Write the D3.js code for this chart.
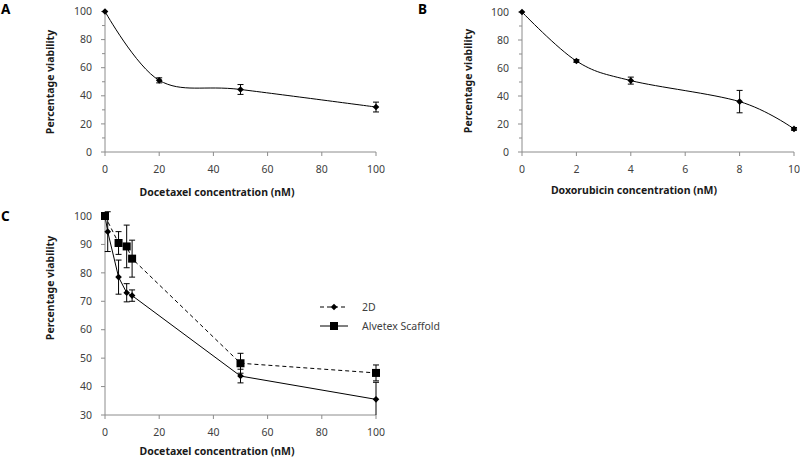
<!DOCTYPE html>
<html><head><meta charset="utf-8">
<script src="https://cdn.jsdelivr.net/npm/d3@7"></script>
<style>
body{margin:0;background:#fff;}
svg{display:block;}
text{font-family:"Noto Sans",sans-serif;}
</style></head>
<body><svg id="c" width="800" height="458"></svg>
<script>
// Panel A: docetaxel
const aConc = [0, 20, 50, 100];
const aViab = [100, 51, 44.5, 32];
const aErr  = [0, 1.8, 3.5, 3.5];
// Panel B: doxorubicin
const bConc = [0, 2, 4, 8, 10];
const bViab = [100, 65, 51, 36, 16.5];
const bErr  = [0, 1, 2.5, 8, 1];
// Panel C
const cConc = [0, 1, 5, 8, 10, 50, 100];
const c2DViab = [100, 94.5, 78.5, 73, 72, 43.7, 35.5];       // solid, diamonds
const c2DErr  = [0, 7, 6, 3.2, 2, 2.4, 6];
const cScafConc = [0, 5, 8, 10, 50, 100];
const cScafViab = [100, 90.5, 89.3, 85, 48.2, 44.8];          // dashed, squares
const cScafErr  = [0, 4, 7.5, 6.5, 3.5, 2.8];
const xTicksA = [0, 20, 40, 60, 80, 100];
const xTicksB = [0, 2, 4, 6, 8, 10];
const legendLabels = ["2D", "Alvetex Scaffold"];

const svg = d3.select("#c");
const axisCol = "#8c8c8c", textCol = "#404040";

function drawAxes(x, y, xt, ymajor, yminor, xTitle, xTitlePos, yTitlePos, ytitle) {
  const [x0] = x.range(); const [y0] = y.range();
  const x1 = x.range()[1], y1 = y.range()[1];
  const g = svg.append("g");
  g.append("line").attr("x1", x0).attr("x2", x0).attr("y1", y0).attr("y2", y1)
    .attr("stroke", axisCol).attr("stroke-width", 1);
  g.append("line").attr("x1", x0).attr("x2", x1).attr("y1", y0).attr("y2", y0)
    .attr("stroke", axisCol).attr("stroke-width", 1);
  yminor.forEach(v => g.append("line").attr("x1", x0 - 3).attr("x2", x0)
    .attr("y1", y(v)).attr("y2", y(v)).attr("stroke", axisCol));
  ymajor.forEach(v => {
    g.append("line").attr("x1", x0 - 4).attr("x2", x0).attr("y1", y(v)).attr("y2", y(v)).attr("stroke", axisCol);
    g.append("text").attr("x", x0 - 13).attr("y", y(v)).attr("dy", "0.35em")
      .attr("text-anchor", "end").attr("font-size", 10.5).attr("fill", textCol).text(v);
  });
  xt.forEach(v => {
    g.append("line").attr("x1", x(v)).attr("x2", x(v)).attr("y1", y0).attr("y2", y0 + 4).attr("stroke", axisCol);
    g.append("text").attr("x", x(v)).attr("y", y0 + 17).attr("dy", "0.35em")
      .attr("text-anchor", "middle").attr("font-size", 10.5).attr("fill", textCol).text(v);
  });
  g.append("text").attr("x", xTitlePos[0]).attr("y", xTitlePos[1]).attr("dy", "0.35em")
    .attr("text-anchor", "middle").attr("font-size", 10.5).attr("font-weight", "bold")
    .attr("fill", "#1a1a1a").text(xTitle);
  g.append("text").attr("transform", `translate(${yTitlePos[0]},${yTitlePos[1]}) rotate(-90)`)
    .attr("dy", "0.35em").attr("text-anchor", "middle").attr("font-size", 10.5)
    .attr("font-weight", "bold").attr("fill", "#1a1a1a").text(ytitle);
}

function errorBars(x, y, xs, vs, es, clampMin) {
  xs.forEach((xv, i) => {
    if (!es[i]) return;
    const lo = Math.max(vs[i] - es[i], clampMin), hi = vs[i] + es[i];
    const g = svg.append("g").attr("stroke", "#000").attr("stroke-width", 1);
    g.append("line").attr("x1", x(xv)).attr("x2", x(xv)).attr("y1", y(lo)).attr("y2", y(hi));
    g.append("line").attr("x1", x(xv) - 3).attr("x2", x(xv) + 3).attr("y1", y(hi)).attr("y2", y(hi));
    if (vs[i] - es[i] >= clampMin)
      g.append("line").attr("x1", x(xv) - 3).attr("x2", x(xv) + 3).attr("y1", y(lo)).attr("y2", y(lo));
  });
}

// diamond = square rotated 45 degrees
const diamondPath = r => `M0,${-r}L${r},0L0,${r}L${-r},0Z`;
const squarePath = r => `M${-r},${-r}H${r}V${r}H${-r}Z`;

function markers(x, y, xs, vs, pathFn, r) {
  xs.forEach((xv, i) => svg.append("path").attr("d", pathFn(r))
    .attr("transform", `translate(${x(xv)},${y(vs[i])})`).attr("fill", "#000"));
}

// Panel A
{
  const x = d3.scaleLinear().domain([0, 100]).range([105, 376]);
  const y = d3.scaleLinear().domain([0, 100]).range([152, 11.5]);
  drawAxes(x, y, xTicksA, d3.range(0, 101, 20), d3.range(10, 100, 20),
    "Docetaxel concentration (nM)", [217, 192], [50, 82], "Percentage viability");
  svg.append("path").datum(aConc.map((c, i) => [x(c), y(aViab[i])]))
    .attr("d", d3.line().curve(d3.curveCardinal.tension(0)))
    .attr("fill", "none").attr("stroke", "#000").attr("stroke-width", 1);
  errorBars(x, y, aConc, aViab, aErr, 0);
  markers(x, y, aConc, aViab, diamondPath, 3.3);
  svg.append("text").attr("x", 1).attr("y", 14).attr("font-size", 13.5).attr("font-weight", "bold").text("A");
}
// Panel B
{
  const x = d3.scaleLinear().domain([0, 10]).range([522, 794]);
  const y = d3.scaleLinear().domain([0, 100]).range([152, 12]);
  drawAxes(x, y, xTicksB, d3.range(0, 101, 20), d3.range(10, 100, 20),
    "Doxorubicin concentration (nM)", [634, 190], [468, 81], "Percentage viability");
  svg.append("path").datum(bConc.map((c, i) => [x(c), y(bViab[i])]))
    .attr("d", d3.line().curve(d3.curveCardinal.tension(0)))
    .attr("fill", "none").attr("stroke", "#000").attr("stroke-width", 1);
  errorBars(x, y, bConc, bViab, bErr, 0);
  markers(x, y, bConc, bViab, diamondPath, 3.3);
  svg.append("text").attr("x", 418).attr("y", 14).attr("font-size", 13.5).attr("font-weight", "bold").text("B");
}
// Panel C
{
  const x = d3.scaleLinear().domain([0, 100]).range([105, 376]);
  const y = d3.scaleLinear().domain([30, 100]).range([415, 216]);
  drawAxes(x, y, xTicksA, d3.range(30, 101, 10), [],
    "Docetaxel concentration (nM)", [217, 451], [50, 288], "Percentage viability");
  svg.append("path").datum(cScafConc.map((c, i) => [x(c), y(cScafViab[i])]))
    .attr("d", d3.line()).attr("fill", "none").attr("stroke", "#000")
    .attr("stroke-width", 1).attr("stroke-dasharray", "4,3");
  svg.append("path").datum(cConc.map((c, i) => [x(c), y(c2DViab[i])]))
    .attr("d", d3.line()).attr("fill", "none").attr("stroke", "#000").attr("stroke-width", 1);
  errorBars(x, y, cScafConc, cScafViab, cScafErr, 30);
  errorBars(x, y, cConc, c2DViab, c2DErr, 30);
  markers(x, y, cScafConc, cScafViab, squarePath, 4);
  markers(x, y, cConc, c2DViab, diamondPath, 3.3);
  svg.append("text").attr("x", 1).attr("y", 221).attr("font-size", 13.5).attr("font-weight", "bold").text("C");

  // legend
  const lg = svg.append("g");
  lg.append("line").attr("x1", 320).attr("x2", 348).attr("y1", 307).attr("y2", 307)
    .attr("stroke", "#000").attr("stroke-dasharray", "4,3");
  lg.append("path").attr("d", diamondPath(3.3)).attr("transform", "translate(334,307)");
  lg.append("line").attr("x1", 320).attr("x2", 348).attr("y1", 326).attr("y2", 326).attr("stroke", "#000");
  lg.append("path").attr("d", squarePath(4)).attr("transform", "translate(334,326)");
  legendLabels.forEach((t, i) => lg.append("text").attr("x", 362).attr("y", 307 + 19 * i)
    .attr("dy", "0.35em").attr("font-size", 10.5).attr("fill", textCol).text(t));
}
</script></body></html>
